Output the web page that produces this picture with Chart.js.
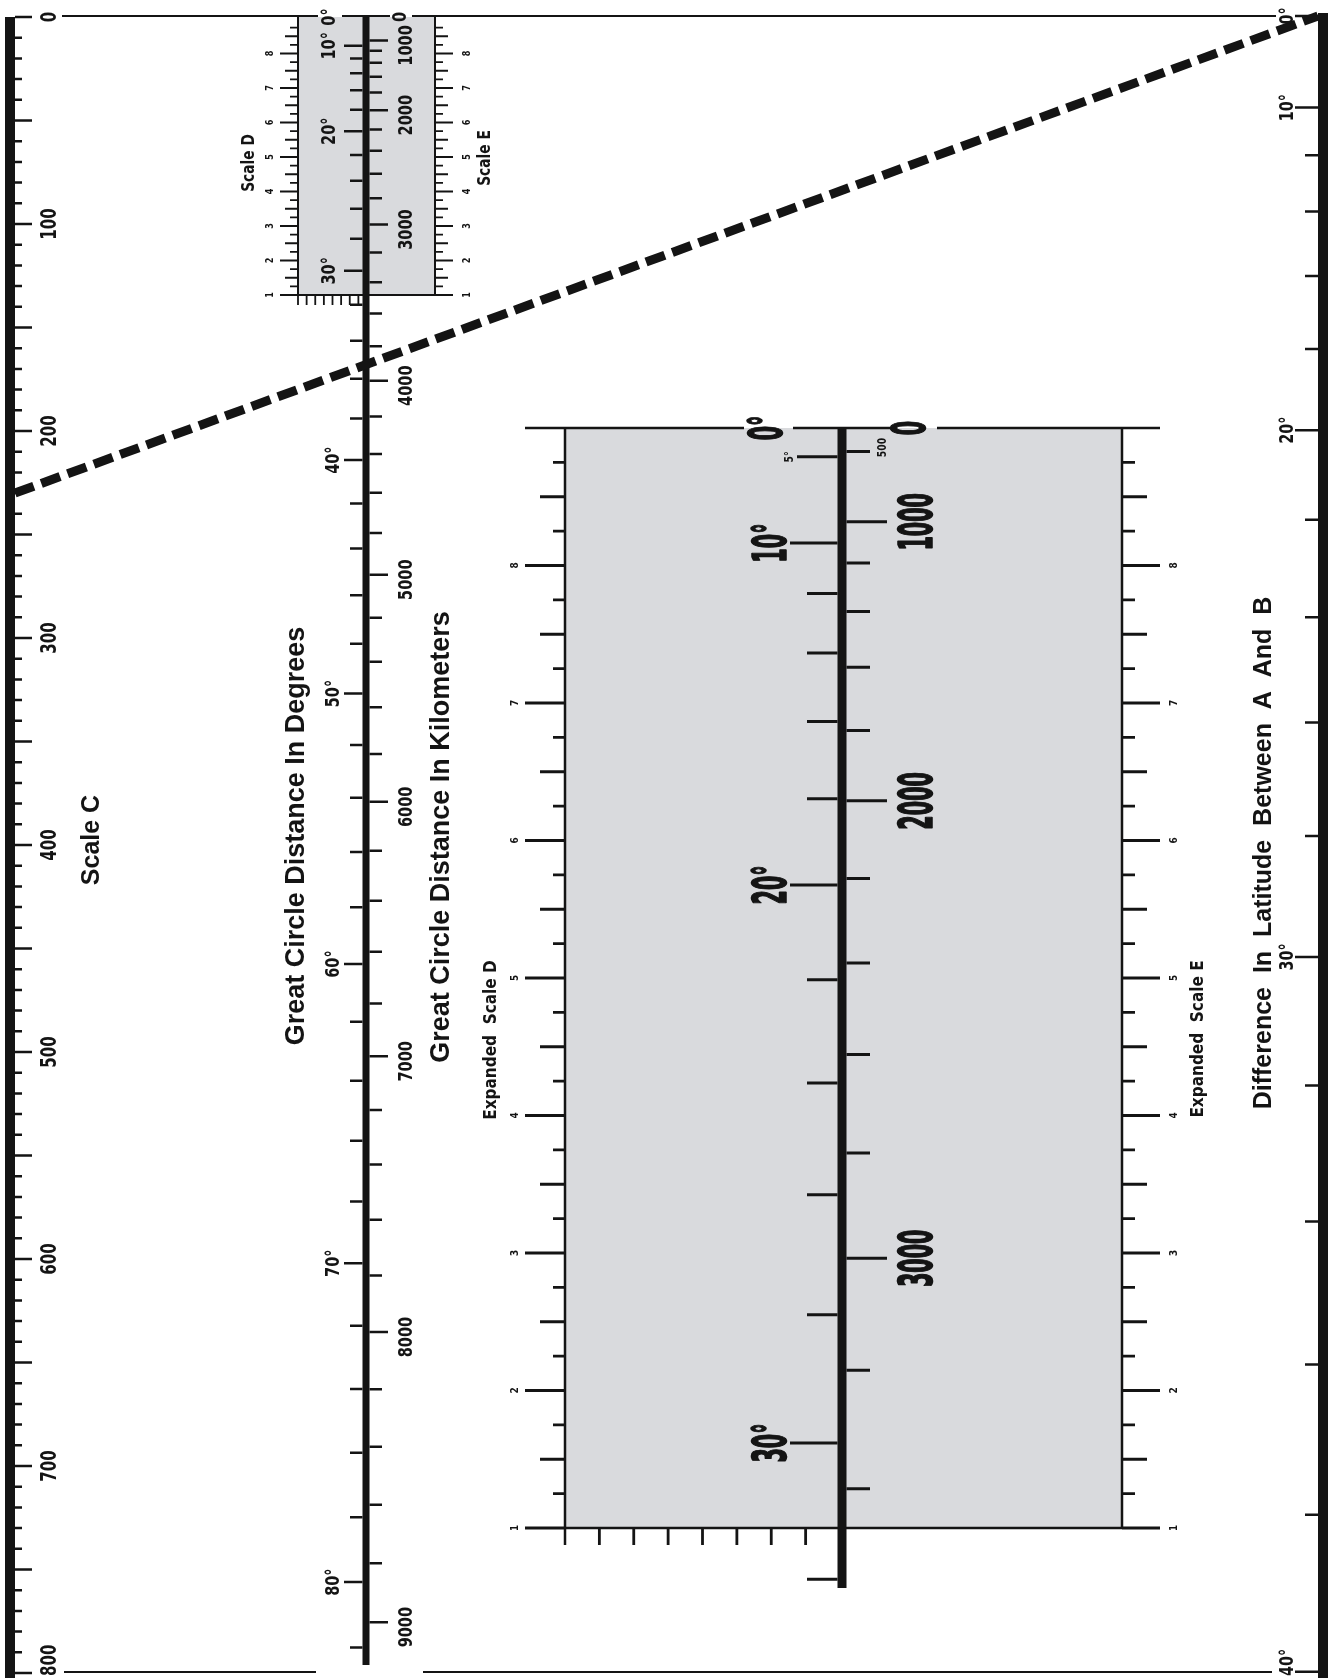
<!DOCTYPE html>
<html>
<head>
<meta charset="utf-8">
<title>Great circle distance nomogram</title>
<script src="https://cdn.jsdelivr.net/npm/chart.js@4.4.1/dist/chart.umd.min.js"></script>
<style>
  html, body { margin: 0; padding: 0; background: #fff; }
  canvas { display: block; }
</style>
</head>
<body>
<canvas id="nomo" width="1343" height="1678"></canvas>
<script>
// ---------------- values ----------------
const scaleCLabels = [0, 100, 200, 300, 400, 500, 600, 700, 800];
const degLabels    = [0, 10, 20, 30, 40, 50, 60, 70, 80];
const kmLabels     = [0, 1000, 2000, 3000, 4000, 5000, 6000, 7000, 8000, 9000];
const scaleDLabels = [1, 2, 3, 4, 5, 6, 7, 8];
const scaleELabels = [1, 2, 3, 4, 5, 6, 7, 8];
const latLabels    = [0, 10, 20, 30, 40];
const expDegLabels = [0, 5, 10, 20, 30];
const expKmLabels  = [0, 500, 1000, 2000, 3000];
// worked example drawn as the dashed line: Scale C reading -> latitude difference
const keyScaleC = 230;
const keyLat = 0;

// ---------------- layout (pixels of the sheet) ----------------
const W = 1343, H = 1678;
const TOP = 17;
const C_X = 10, C_PER100 = 207;
const MID_X = 366, MID_K = 1894, MID_END = 1665;
const KM_PER_DEG = 110.8;
const LAT_X = 1323, LAT_A = -1, LAT_K = 7150;
const SB = { left: 298, right: 435, bottom: 295, unit: 34.5 };          // small box (scales D/E)
const BB = { left: 565, right: 1122, top: 428, bottom: 1528, unit: 137.5,
             axisX: 842, axisEnd: 1588, k: 7576 };                      // expanded box
const LINE_TOP = 16, LINE_BOTTOM = 1672;

const NARROW = "'DejaVu Sans Condensed','DejaVu Sans',sans-serif";
const WIDE = "'Liberation Sans',Arial,sans-serif";
const INK = '#141414';

const hav = d => 1 - Math.cos(d * Math.PI / 180);
const yC = v => TOP + v / 100 * C_PER100;
const yDeg = d => TOP + MID_K * hav(d);
const yKm = km => yDeg(km / KM_PER_DEG);
const ySmall = v => SB.bottom - (v - 1) * SB.unit;
const yBig = v => BB.bottom - (v - 1) * BB.unit;
const yBigDeg = d => BB.top + BB.k * hav(d);
const yBigKm = km => yBigDeg(km / KM_PER_DEG);
const yLat = d => (d === 0 ? LINE_TOP : LAT_A + LAT_K * hav(d));

function range(a, b, step) {
  const out = [];
  for (let v = a; v <= b + 1e-9; v += step) out.push(Math.round(v * 1000) / 1000);
  return out;
}
function segs(list) {
  const pts = [];
  list.forEach(([x1, y1, x2, y2]) => pts.push({ x: x1, y: y1 }, { x: x2, y: y2 }, { x: null, y: null }));
  return pts;
}
function gapLine(y, x1, x2, gaps) {
  const out = [];
  let s = x1;
  gaps.slice().sort((a, b) => a[0] - b[0]).forEach(([a, b]) => {
    if (a > s) out.push([s, y, a, y]);
    s = Math.max(s, b);
  });
  if (x2 > s) out.push([s, y, x2, y]);
  return out;
}
function lineSet(list, width, extra) {
  return Object.assign({
    data: segs(list), showLine: true, pointRadius: 0, borderColor: INK,
    borderWidth: width, borderCapStyle: 'butt', spanGaps: false, order: 1
  }, extra || {});
}
function boxSet(l, t, r, b) {
  return {
    data: [{ x: l, y: t }, { x: r, y: t }, { x: r, y: b }, { x: l, y: b }, { x: l, y: t }],
    showLine: true, pointRadius: 0, borderWidth: 0, borderColor: 'rgba(0,0,0,0)',
    backgroundColor: '#d9dadd', fill: 'shape', order: 10
  };
}

// ---- Scale C ----
const cTicks = range(0, 800, 10).map(v => [C_X + 5, yC(v), C_X + (v % 50 === 0 ? 22 : 12), yC(v)]);

// ---- main distance axis ----
const degTicks = range(10, 82, 2).map(d => [MID_X - 3.5, yDeg(d), d % 10 === 0 ? 344 : 350, yDeg(d)]);
const kmTicks = range(1000, 9000, 200).map(k => [MID_X + 3.5, yKm(k), k % 1000 === 0 ? 388 : 382, yKm(k)]);

// ---- small box scales D / E ----
const quarter = range(1, 8.75, 0.25);
const tickLen = (v, l, m, s) => (v % 1 === 0 ? l : v % 0.5 === 0 ? m : s);
const sDTicks = quarter.map(v => [SB.left, ySmall(v), tickLen(v, 280, 285, 290), ySmall(v)]);
const sETicks = quarter.map(v => [SB.right, ySmall(v), tickLen(v, 453, 448, 443), ySmall(v)]);
const sFoot = range(0, 7, 1).map(i => [SB.left + i * SB.unit / 4, SB.bottom, SB.left + i * SB.unit / 4, SB.bottom + 10]);
const sEdges = [[SB.left, TOP, SB.left, SB.bottom], [SB.right, TOP, SB.right, SB.bottom], [SB.left, SB.bottom, SB.right, SB.bottom]];

// ---- expanded box ----
const bDTicks = quarter.map(v => [BB.left, yBig(v), tickLen(v, 525, 540, 553), yBig(v)]);
const bETicks = quarter.map(v => [BB.right, yBig(v), tickLen(v, 1160, 1147, 1135), yBig(v)]);
const bFoot = range(1, 7, 1).map(i => [BB.left + i * BB.unit / 4, BB.bottom, BB.left + i * BB.unit / 4, BB.bottom + 17]);
const bEdges = [[BB.left, BB.top, BB.left, BB.bottom + 17], [BB.right, BB.top, BB.right, BB.bottom],
                [BB.left, BB.bottom, BB.right, BB.bottom]];
const bDegTicks = [5].concat(range(10, 32, 2)).map(d =>
  [BB.axisX - 4.5, yBigDeg(d), d === 5 ? 797 : d % 10 === 0 ? 790 : 807, yBigDeg(d)]);
const bKmTicks = [500].concat(range(1000, 3400, 200)).map(k =>
  [BB.axisX + 4.5, yBigKm(k), k % 1000 === 0 ? 887 : 870, yBigKm(k)]);

// ---- latitude difference axis ----
const latTicks = [0].concat(range(10, 40, 2)).map(d => [LAT_X - 5, yLat(d), d % 10 === 0 ? 1295 : 1305, yLat(d)]);

// ---- frame lines ----
const topLine = gapLine(LINE_TOP, 62, LAT_X - 5, [[318, 342], [390, 412], [1276, 1300]]);
const bottomLine = gapLine(LINE_BOTTOM, 64, 1272, [[316, 423]]);
const bigTopLine = gapLine(BB.top, 525, 1160, [[744, 793], [890, 937]]);

// ---------------- labels ----------------
const labels = [];
const add = (text, x, y, font, sq, stroke) => labels.push({ text, x, y, font, sq: sq || 1, stroke: stroke || 0 });
scaleCLabels.forEach(v => add(String(v), 51, yC(v), `bold 21px ${NARROW}`, 0.8));
degLabels.forEach(d => add(d + '°', d <= 30 ? 330 : 334, yDeg(d), `bold 19px ${NARROW}`, 0.85));
kmLabels.forEach(k => add(String(k), k === 0 ? 401 : 407, k === 0 ? yKm(k) : yKm(k) + 5, `bold 19px ${NARROW}`, 0.85));
scaleDLabels.forEach(v => add(String(v), 270, ySmall(v), `bold 10px ${NARROW}`, 0.9));
scaleELabels.forEach(v => add(String(v), 467, ySmall(v), `bold 10px ${NARROW}`, 0.9));
add('Scale D', 250, 163, `bold 17px ${NARROW}`, 0.9);
add('Scale E', 486, 158, `bold 17px ${NARROW}`, 0.9);
expDegLabels.forEach(d => {
  if (d === 5) add('5°', 790, yBigDeg(d), `bold 13px ${NARROW}`, 0.8);
  else add(d + '°', d === 0 ? 770 : 774, yBigDeg(d), `bold 46px ${NARROW}`, 0.5, 1.6);
});
expKmLabels.forEach(k => {
  if (k === 500) add('500', 883, yBigKm(k) - 4, `bold 13px ${NARROW}`, 0.8);
  else add(String(k), k === 0 ? 913 : 920, yBigKm(k), `bold 46px ${NARROW}`, 0.5, 1.6);
});
scaleDLabels.forEach(v => add(String(v), 515, yBig(v), `bold 11px ${NARROW}`, 0.9));
scaleELabels.forEach(v => add(String(v), 1174, yBig(v), `bold 11px ${NARROW}`, 0.9));
add('Expanded  Scale D', 492, 1040, `bold 17px ${NARROW}`, 1);
add('Expanded  Scale E', 1199, 1039, `bold 17px ${NARROW}`, 1);
latLabels.forEach(d => add(d + '°', 1288, yLat(d), `bold 20px ${NARROW}`, 0.8));
add('Scale C', 92, 840, `bold 25px ${WIDE}`);
add('Great Circle Distance In Degrees', 297, 836, `bold 27px ${WIDE}`);
add('Great Circle Distance In Kilometers', 442, 837, `bold 27px ${WIDE}`);
add('Difference  In  Latitude  Between  A  And  B', 1264, 853, `bold 25px ${WIDE}`);

const textPlugin = {
  id: 'nomoText',
  afterDatasetsDraw(chart) {
    const { ctx, scales: { x, y } } = chart;
    labels.forEach(l => {
      ctx.save();
      ctx.font = l.font;
      const half = ctx.measureText(l.text).width * l.sq / 2;
      // keep labels that sit on the sheet edge fully on the sheet
      const py = Math.max(half + 1, Math.min(H - half - 2, y.getPixelForValue(l.y)));
      ctx.translate(x.getPixelForValue(l.x), py);
      ctx.rotate(-Math.PI / 2);
      ctx.scale(l.sq, 1);
      ctx.fillStyle = INK;
      ctx.textAlign = 'center';
      ctx.textBaseline = 'middle';
      ctx.fillText(l.text, 0, 0);
      if (l.stroke) {
        ctx.strokeStyle = INK;
        ctx.lineWidth = l.stroke;
        ctx.lineJoin = 'round';
        ctx.strokeText(l.text, 0, 0);
      }
      ctx.restore();
    });
  }
};

const ctx = document.getElementById('nomo').getContext('2d');
const chart = new Chart(ctx, {
  type: 'scatter',
  data: {
    datasets: [
      boxSet(SB.left, TOP, SB.right, SB.bottom),
      boxSet(BB.left, BB.top, BB.right, BB.bottom),
      lineSet([[C_X, TOP, C_X, H]], 10),
      lineSet(cTicks, 2.5),
      lineSet([[MID_X, TOP, MID_X, MID_END]], 7),
      lineSet(degTicks, 2.5),
      lineSet(kmTicks, 2.5),
      lineSet(sEdges, 2),
      lineSet(sDTicks, 1.8),
      lineSet(sETicks, 1.8),
      lineSet(sFoot, 1.8),
      lineSet(bEdges, 2.5),
      lineSet(bDTicks, 2.8),
      lineSet(bETicks, 2.8),
      lineSet(bFoot, 2.8),
      lineSet([[BB.axisX, BB.top, BB.axisX, BB.axisEnd]], 9),
      lineSet(bDegTicks, 3),
      lineSet(bKmTicks, 3),
      lineSet([[LAT_X, 13, LAT_X, H]], 10),
      lineSet(latTicks, 2.5),
      lineSet(topLine, 2),
      lineSet(bottomLine, 2),
      lineSet(bigTopLine, 2.5),
      lineSet([[C_X + 5, yC(keyScaleC), LAT_X - 5, yLat(keyLat)]], 9, { borderDash: [20, 8], order: 0 })
    ]
  },
  options: {
    responsive: false,
    animation: false,
    devicePixelRatio: 1,
    layout: { padding: 0 },
    scales: {
      x: { type: 'linear', min: 0, max: W, display: false },
      y: { type: 'linear', min: 0, max: H, reverse: true, display: false }
    },
    plugins: { legend: { display: false }, tooltip: { enabled: false } }
  },
  plugins: [textPlugin]
});
</script>
</body>
</html>
